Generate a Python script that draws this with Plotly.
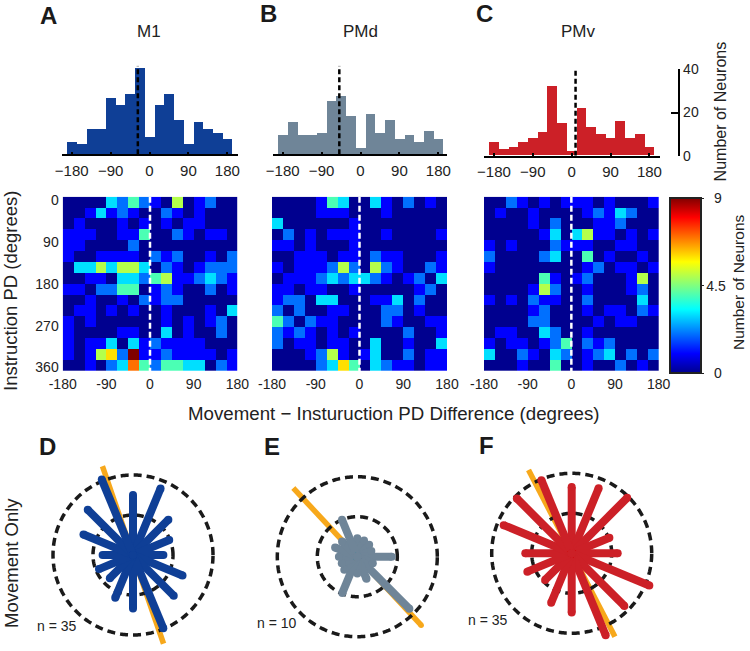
import numpy as np
import plotly.graph_objects as go

W, H = 750, 651
FONT = "Liberation Sans"
TXT = "#222222"

hist_bins = [-180, -157.5, -135, -112.5, -90, -67.5, -45, -22.5, 0, 22.5, 45, 67.5, 90, 112.5, 135, 157.5, 180]
hist_m1 = [6, 5, 12, 12, 26, 23, 28, 40, 8, 23, 28, 16, 5, 15, 12, 10, 7]
hist_pmd = [9, 15, 9, 9, 10, 25, 27, 18, 3, 19, 10, 16, 7, 9, 6, 11, 7]
hist_pmv = [6, 3, 4, 6, 8, 11, 32, 15, 2, 22, 13, 10, 8, 16, 8, 10, 4]
mean_m1, mean_pmd, mean_pmv = -27, -49, 9
hist_ticks = [-180, -90, 0, 90, 180]
hist_ticktext = ["\u2212180", "\u221290", "0", "90", "180"]
count_ticks = [0, 20, 40]

heat_m1 = [
    [0, 0, 0, 0, 3, 2, 4, 2, 1, 0, 5, 0, 1, 2, 0, 0],
    [0, 0, 1, 3, 1, 2, 1, 0, 0, 2, 1, 0, 1, 0, 0, 0],
    [0, 1, 0, 0, 0, 1, 0, 1, 0, 1, 0, 1, 1, 0, 0, 0],
    [1, 1, 1, 0, 0, 1, 1, 4, 0, 0, 2, 1, 0, 1, 1, 0],
    [1, 1, 0, 0, 0, 0, 2, 0, 0, 0, 0, 0, 0, 0, 0, 0],
    [1, 0, 0, 1, 1, 1, 1, 0, 2, 1, 2, 0, 0, 1, 0, 2],
    [0, 3, 3, 5, 3, 5, 5, 3, 0, 2, 1, 0, 1, 2, 2, 2],
    [0, 0, 1, 1, 0, 3, 3, 2, 4, 5, 1, 1, 2, 3, 2, 1],
    [1, 1, 0, 2, 2, 4, 4, 0, 1, 2, 1, 0, 0, 2, 0, 1],
    [0, 0, 1, 0, 0, 1, 0, 2, 1, 2, 2, 0, 0, 0, 0, 0],
    [0, 1, 1, 0, 1, 0, 1, 0, 0, 1, 0, 0, 0, 1, 0, 3],
    [1, 0, 1, 0, 0, 0, 0, 0, 0, 1, 0, 1, 0, 1, 2, 0],
    [1, 0, 0, 0, 0, 1, 1, 0, 0, 3, 0, 1, 0, 0, 2, 0],
    [1, 0, 1, 1, 3, 0, 3, 1, 2, 1, 1, 1, 1, 0, 0, 0],
    [1, 0, 1, 5, 6, 2, 9, 1, 1, 2, 1, 1, 1, 1, 0, 1],
    [0, 0, 1, 0, 2, 3, 7, 4, 2, 4, 4, 3, 3, 0, 2, 1],
]
heat_pmd = [
    [0, 0, 0, 0, 1, 4, 3, 0, 0, 3, 1, 0, 2, 0, 1, 0],
    [0, 0, 0, 0, 1, 1, 1, 0, 0, 0, 1, 0, 0, 0, 0, 0],
    [3, 0, 0, 0, 0, 0, 0, 1, 0, 0, 0, 0, 0, 0, 0, 0],
    [0, 2, 0, 1, 0, 1, 1, 1, 0, 0, 1, 0, 0, 0, 0, 1],
    [1, 1, 0, 1, 0, 0, 0, 1, 0, 0, 0, 0, 0, 0, 0, 0],
    [0, 0, 1, 1, 1, 0, 1, 1, 0, 2, 1, 1, 0, 0, 0, 1],
    [1, 0, 1, 1, 1, 2, 5, 2, 0, 5, 2, 1, 0, 0, 2, 1],
    [0, 1, 1, 1, 2, 3, 2, 3, 3, 2, 1, 0, 1, 2, 0, 3],
    [1, 1, 0, 1, 1, 0, 0, 1, 0, 0, 0, 0, 0, 1, 2, 0],
    [1, 2, 2, 0, 3, 3, 0, 0, 0, 1, 1, 3, 0, 2, 0, 0],
    [2, 0, 2, 0, 0, 1, 1, 0, 0, 0, 2, 2, 0, 1, 0, 0],
    [4, 2, 0, 2, 1, 1, 0, 0, 0, 0, 2, 1, 0, 0, 1, 1],
    [2, 1, 2, 1, 0, 1, 0, 1, 0, 0, 0, 0, 2, 0, 0, 1],
    [2, 0, 1, 1, 0, 1, 1, 0, 0, 3, 0, 0, 1, 0, 0, 3],
    [0, 0, 0, 1, 2, 5, 1, 0, 1, 3, 0, 0, 2, 0, 1, 1],
    [0, 0, 0, 0, 2, 3, 6, 4, 0, 3, 2, 1, 1, 0, 1, 1],
]
heat_pmv = [
    [0, 0, 2, 1, 0, 1, 0, 1, 1, 1, 0, 1, 0, 0, 0, 1],
    [0, 1, 0, 0, 1, 0, 0, 0, 0, 1, 2, 1, 3, 2, 0, 0],
    [0, 0, 0, 0, 1, 0, 2, 0, 0, 0, 1, 1, 2, 0, 0, 0],
    [0, 0, 0, 0, 0, 1, 3, 0, 3, 5, 1, 1, 0, 1, 0, 1],
    [1, 0, 1, 0, 0, 0, 2, 1, 1, 1, 0, 0, 1, 1, 0, 0],
    [2, 0, 0, 0, 0, 2, 3, 0, 0, 4, 0, 1, 0, 0, 1, 0],
    [1, 0, 0, 0, 0, 0, 0, 0, 0, 1, 2, 0, 1, 1, 0, 1],
    [0, 0, 0, 0, 0, 4, 1, 0, 1, 2, 0, 0, 0, 1, 5, 0],
    [0, 0, 0, 0, 1, 5, 2, 0, 0, 1, 0, 0, 0, 1, 2, 0],
    [1, 0, 1, 0, 2, 1, 1, 0, 0, 2, 0, 0, 0, 0, 3, 0],
    [0, 0, 0, 0, 1, 2, 0, 0, 0, 1, 0, 1, 1, 0, 2, 1],
    [0, 0, 0, 0, 2, 2, 0, 0, 0, 0, 1, 0, 1, 1, 0, 0],
    [0, 1, 1, 0, 0, 3, 2, 0, 0, 1, 0, 0, 0, 0, 0, 0],
    [1, 0, 1, 1, 0, 1, 2, 4, 0, 2, 1, 2, 0, 0, 0, 0],
    [3, 0, 0, 2, 1, 0, 3, 2, 0, 1, 2, 3, 0, 2, 0, 2],
    [0, 0, 0, 1, 0, 0, 4, 0, 0, 1, 0, 0, 2, 0, 1, 0],
]
heat_x_ticks = [-180, -90, 0, 90, 180]
heat_x_ticktext = ["-180", "-90", "0", "90", "180"]
heat_y_ticks = [0, 90, 180, 270, 360]

rose_angles = [90, 67.5, 45, 22.5, 0, -22.5, -45, -67.5, -90, -112.5, -135, -157.5, 180, 157.5, 135, 112.5]
rose_m1 = [7.5, 9.0, 6.25, 4.9, 3.8, 6.7, 7.2, 9.9, 6.7, 5.8, 4.1, 4.6, 3.8, 6.7, 8.0, 10.2]
rose_pmd = [2.3, 2.2, 2.1, 1.9, 4.3, 2.1, 9.2, 3.0, 2.1, 4.9, 2.3, 2.1, 2.3, 3.0, 2.7, 5.0]
rose_pmv = [8.3, 8.8, 9.8, 5.1, 5.75, 10.5, 9.3, 11.1, 7.4, 6.7, 4.7, 6.0, 5.8, 9.2, 9.7, 9.9]
axis_m1 = ([109, -71], [12.3, 12.0])
axis_pmd = ([133, -47], [11.8, 11.7])
axis_pmv = ([117.4, -62.6], [11.9, 13.3])
rings = [5, 10]

navy, slate, red = "#0f3f96", "#6f8598", "#cc2027"
orange = "#f7a81b"
jet = [[0, "rgb(0,0,143)"], [0.111, "rgb(0,0,255)"], [0.365, "rgb(0,255,255)"],
       [0.635, "rgb(255,255,0)"], [0.889, "rgb(255,0,0)"], [1, "rgb(128,0,0)"]]


def dx(a, b):
    return [a / W, b / W]


def dy(top, bottom):
    return [1 - bottom / H, 1 - top / H]


fig = go.Figure()
layout = {}
tick_font = dict(family=FONT, size=14, color=TXT)
hist_tick_font = dict(family=FONT, size=15, color=TXT)

# histograms
hist_cfg = [
    ("", hist_m1, mean_m1, navy, (61.7, 237.7), (-203.1, 204), 154.3, 41),
    ("2", hist_pmd, mean_pmd, slate, (272.7, 446.7), (-203.1, 199.4), 154.3, 41),
    ("3", hist_pmv, mean_pmv, red, (484, 660), (-203, 204.5), 155.7, 40),
]
for sfx, vals, mean, col, xpx, xr, base, ymax in hist_cfg:
    fig.add_trace(go.Bar(x=hist_bins, y=vals, width=22.5, marker=dict(color=col, line=dict(width=0)),
                         xaxis="x" + sfx, yaxis="y" + sfx, showlegend=False))
    fig.add_trace(go.Scatter(x=[mean, mean], y=[0, ymax], mode="lines",
                             line=dict(color="#000000", width=2.5, dash="5px,3px"),
                             xaxis="x" + sfx, yaxis="y" + sfx, showlegend=False))
    layout["xaxis" + sfx] = dict(domain=dx(*xpx), range=list(xr), anchor="y" + sfx, tickmode="array",
                                 tickvals=hist_ticks, ticktext=hist_ticktext, ticks="inside", ticklen=3,
                                 tickwidth=1.5, tickcolor="#000", showline=True, linecolor="#000",
                                 linewidth=1.5, showgrid=False, zeroline=False, tickfont=hist_tick_font,
                                 ticklabelstandoff=2)
    layout["yaxis" + sfx] = dict(domain=dy(base - 2.16 * ymax, base), range=[0, ymax], visible=False,
                                 anchor="x" + sfx, fixedrange=True)
layout["yaxis3"].update(visible=True, side="right", anchor="free", position=679.3 / W, tickmode="array",
                        tickvals=count_ticks, ticks="inside", ticklen=7, tickwidth=2, tickcolor="#000",
                        showline=True, linecolor="#000", linewidth=2, showgrid=False, zeroline=False,
                        tickfont=tick_font)

# heatmaps
heat_cfg = [
    ("4", heat_m1, (62.7, 237.3)),
    ("5", heat_pmd, (272, 447)),
    ("6", heat_pmv, (484, 658.7)),
]
row_h = (367.4 + 7) / 16
for sfx, z, xpx in heat_cfg:
    fig.add_trace(go.Heatmap(z=z, x0=-168.75, dx=22.5, y0=-7 + row_h / 2, dy=row_h, coloraxis="coloraxis",
                             xaxis="x" + sfx, yaxis="y" + sfx, xgap=0, ygap=0))
    fig.add_trace(go.Scatter(x=[0, 0], y=[-7, 367.4], mode="lines",
                             line=dict(color="#ffffff", width=2.5, dash="6px,3px"),
                             xaxis="x" + sfx, yaxis="y" + sfx, showlegend=False))
    layout["xaxis" + sfx] = dict(domain=dx(*xpx), range=[-180, 180], anchor="y" + sfx, tickmode="array",
                                 tickvals=heat_x_ticks, ticktext=heat_x_ticktext, ticks="", showgrid=False,
                                 zeroline=False, tickfont=tick_font, ticklabelstandoff=3)
    layout["yaxis" + sfx] = dict(domain=dy(196.7, 371), range=[367.4, -7], anchor="x" + sfx,
                                 visible=sfx == "4", tickmode="array", tickvals=heat_y_ticks, ticks="",
                                 showgrid=False, zeroline=False, tickfont=tick_font, ticklabelstandoff=3)

layout["coloraxis"] = dict(cmin=0, cmax=9, colorscale=jet, colorbar=dict(
    thickness=31, thicknessmode="pixels", len=175, lenmode="pixels", x=670 / W, xanchor="left",
    y=1 - (198.3 + 87.5) / H, yanchor="middle", xpad=0, ypad=0, outlinecolor="#222222", outlinewidth=2,
    tickmode="array", tickvals=[0, 4.5, 9], ticktext=["\u00a0\u00a00", "4.5", "\u00a0\u00a09"],
    ticks="outside", ticklen=2, tickcolor="#222222", tickfont=tick_font))

# polar roses
polar_cfg = [
    ("polar", rose_m1, axis_m1, navy, (133, 555)),
    ("polar2", rose_pmd, axis_pmd, slate, (357.3, 556.7)),
    ("polar3", rose_pmv, axis_pmv, red, (571.7, 553.3)),
]
R = 94
ring_theta = np.linspace(0, 360, 361)
for name, vals, (ax_th, ax_r), col, (cx, cy) in polar_cfg:
    fig.add_trace(go.Scatterpolar(theta=[ax_th[0], ax_th[1]], r=[ax_r[0], 0], mode="lines", subplot=name,
                                  line=dict(color=orange, width=5.5), showlegend=False))
    fig.add_trace(go.Scatterpolar(theta=[ax_th[1], ax_th[1]], r=[0, ax_r[1]], mode="lines", subplot=name,
                                  line=dict(color=orange, width=5.5), showlegend=False))
    fig.add_trace(go.Scatterpolar(theta=ax_th, r=ax_r, mode="markers", subplot=name,
                                  marker=dict(color=orange, size=5.5), showlegend=False))
    for ring in rings:
        fig.add_trace(go.Scatterpolar(theta=ring_theta, r=[ring] * len(ring_theta), mode="lines", subplot=name,
                                      line=dict(color="#1a1a1a", width=3.5, dash="8px,5px"), showlegend=False))
    th, rr = [], []
    for a, v in zip(rose_angles, vals):
        th += [a, a, None]
        rr += [0, v, None]
    fig.add_trace(go.Scatterpolar(theta=th, r=rr, mode="lines+markers", subplot=name, connectgaps=False,
                                  line=dict(color=col, width=8), marker=dict(color=col, size=8),
                                  showlegend=False))
    layout[name] = dict(domain=dict(x=dx(cx - R, cx + R), y=dy(cy - R, cy + R)),
                        radialaxis=dict(visible=False, range=[0, R / 8]),
                        angularaxis=dict(visible=False, rotation=0, direction="counterclockwise"),
                        bgcolor="rgba(0,0,0,0)")


def note(px, py, text, size=14, bold=False, angle=0, color=TXT):
    return dict(x=px / W, y=1 - py / H, xref="paper", yref="paper", text=f"<b>{text}</b>" if bold else text,
                showarrow=False, xanchor="center", yanchor="middle", textangle=angle,
                font=dict(family=FONT, size=size, color=color))


notes = [
    note(49, 15, "A", 24, True, color="#1a1a1a"), note(268, 14, "B", 24, True, color="#1a1a1a"),
    note(484, 14, "C", 24, True, color="#1a1a1a"), note(47, 446, "D", 24, True, color="#1a1a1a"),
    note(272, 446, "E", 24, True, color="#1a1a1a"), note(486, 445, "F", 24, True, color="#1a1a1a"),
    note(149, 31, "M1", 17), note(360, 32, "PMd", 17), note(578, 32, "PMv", 17),
    note(720.7, 111.7, "Number of Neurons", 16, angle=-90),
    note(738, 282, "Number of Neurons", 15.5, angle=-90),
    note(11, 291, "Instruction PD (degrees)", 18.5, angle=-90),
    note(394, 413, "Movement \u2212 Insturuction PD Difference (degrees)", 18.7),
    note(11, 563, "Movement Only", 18.5, angle=-90),
    note(57, 626, "n = 35", 14), note(277, 623, "n = 10", 14), note(488, 620, "n = 35", 14),
]

fig.update_layout(width=W, height=H, margin=dict(l=0, r=0, t=0, b=0, autoexpand=False), paper_bgcolor="#ffffff",
                  plot_bgcolor="rgba(0,0,0,0)", bargap=0, showlegend=False, annotations=notes, **layout)

fig.write_html("out.html", config={"displayModeBar": False, "responsive": False},
               post_script="document.body.style.margin='0';document.body.style.overflow='hidden';")
